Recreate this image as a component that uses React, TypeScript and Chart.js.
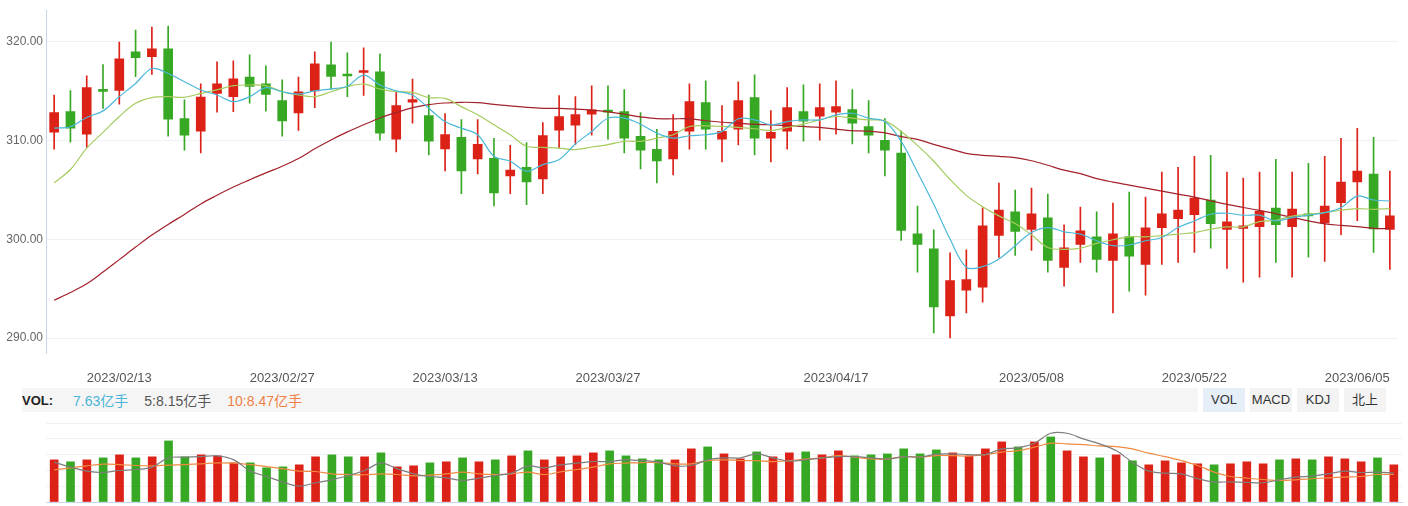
import React, { useEffect, useRef } from 'react';
import { Chart, registerables } from 'chart.js';

Chart.register(...registerables);

const dates = [
  '2023/02/07', '2023/02/08', '2023/02/09', '2023/02/10',
  '2023/02/13', '2023/02/14', '2023/02/15', '2023/02/16', '2023/02/17',
  '2023/02/20', '2023/02/21', '2023/02/22', '2023/02/23', '2023/02/24',
  '2023/02/27', '2023/02/28', '2023/03/01', '2023/03/02', '2023/03/03',
  '2023/03/06', '2023/03/07', '2023/03/08', '2023/03/09', '2023/03/10',
  '2023/03/13', '2023/03/14', '2023/03/15', '2023/03/16', '2023/03/17',
  '2023/03/20', '2023/03/21', '2023/03/22', '2023/03/23', '2023/03/24',
  '2023/03/27', '2023/03/28', '2023/03/29', '2023/03/30', '2023/03/31',
  '2023/04/03', '2023/04/04', '2023/04/06', '2023/04/07',
  '2023/04/10', '2023/04/11', '2023/04/12', '2023/04/13', '2023/04/14',
  '2023/04/17', '2023/04/18', '2023/04/19', '2023/04/20', '2023/04/21',
  '2023/04/24', '2023/04/25', '2023/04/26', '2023/04/27', '2023/04/28',
  '2023/05/04', '2023/05/05',
  '2023/05/08', '2023/05/09', '2023/05/10', '2023/05/11', '2023/05/12',
  '2023/05/15', '2023/05/16', '2023/05/17', '2023/05/18', '2023/05/19',
  '2023/05/22', '2023/05/23', '2023/05/24', '2023/05/25', '2023/05/26',
  '2023/05/29', '2023/05/30', '2023/05/31', '2023/06/01', '2023/06/02',
  '2023/06/05', '2023/06/06', '2023/06/07',
];

const shownDates = ['2023/02/13', '2023/02/27', '2023/03/13', '2023/03/27', '2023/04/17', '2023/05/08', '2023/05/22', '2023/06/05'];

const openP = [
  310.87, 312.95, 310.66, 315.05, 315.10, 318.99, 318.52, 319.30, 312.25, 310.97,
  314.79, 314.46, 316.44, 315.77, 314.06, 312.82, 315.04, 317.68, 316.65, 316.91,
  316.98, 310.16, 313.89, 312.55, 309.16, 310.33, 308.15, 308.22, 306.44, 307.31,
  306.13, 311.07, 311.57, 312.68, 313.00, 312.95, 310.43, 309.12, 308.15, 310.97,
  313.86, 310.16, 311.17, 314.36, 310.26, 310.97, 312.95, 312.48, 312.88, 313.15,
  311.44, 310.03, 308.75, 300.56, 299.05, 292.24, 294.85, 295.16, 300.39, 302.78,
  301.00, 302.18, 297.17, 299.49, 300.26, 297.88, 300.29, 297.47, 301.20, 302.11,
  302.51, 303.99, 301.00, 301.10, 301.30, 303.18, 301.30, 302.58, 301.67, 303.72,
  305.83, 306.61, 301.00,
];
const highP = [
  314.63, 315.07, 316.58, 317.71, 320.00, 321.21, 321.51, 321.61, 314.13, 315.77,
  317.99, 318.09, 318.69, 317.58, 316.17, 316.44, 318.99, 320.00, 318.89, 319.40,
  318.79, 314.89, 316.24, 314.63, 312.75, 312.15, 312.15, 310.23, 309.53, 309.80,
  311.84, 314.56, 314.46, 315.57, 315.57, 315.17, 312.85, 311.14, 312.65, 315.77,
  316.07, 313.55, 315.96, 316.68, 313.05, 315.37, 315.67, 315.77, 316.07, 315.17,
  314.06, 312.25, 311.01, 303.38, 300.97, 298.65, 298.95, 303.21, 305.70, 305.00,
  305.20, 304.59, 301.47, 303.28, 302.78, 303.69, 304.79, 304.29, 306.81, 307.31,
  308.42, 308.52, 306.81, 306.20, 306.81, 308.12, 306.81, 307.71, 308.42, 310.23,
  311.24, 310.33, 306.91,
];
const lowP = [
  309.15, 309.86, 309.33, 313.28, 313.69, 316.48, 316.71, 310.46, 309.05, 308.75,
  312.88, 312.95, 313.79, 312.98, 310.46, 311.04, 313.35, 315.20, 314.46, 314.59,
  310.06, 308.85, 311.77, 308.55, 306.94, 304.62, 306.64, 303.38, 304.62, 303.51,
  304.62, 309.26, 309.60, 310.56, 310.16, 308.75, 307.14, 305.73, 306.54, 309.15,
  309.15, 307.84, 309.56, 308.55, 307.84, 309.15, 309.96, 310.06, 310.66, 309.66,
  308.75, 306.44, 299.89, 296.67, 290.52, 290.02, 292.54, 293.65, 298.18, 298.38,
  298.88, 296.67, 295.26, 297.67, 296.67, 292.54, 294.75, 294.35, 297.47, 297.67,
  298.68, 299.11, 297.07, 295.66, 296.16, 297.67, 296.16, 298.20, 297.78, 300.49,
  301.90, 298.68, 296.97,
];
const closeP = [
  312.85, 311.27, 315.37, 315.00, 318.29, 318.42, 319.30, 312.18, 310.56, 314.43,
  315.77, 316.27, 315.50, 314.69, 312.01, 314.96, 317.78, 316.51, 316.55, 317.08,
  310.77, 313.55, 314.16, 309.96, 310.63, 306.94, 309.63, 304.72, 307.01, 305.83,
  310.53, 312.45, 312.65, 313.12, 312.90, 310.26, 309.05, 307.95, 310.94, 313.96,
  311.17, 310.94, 314.06, 310.26, 310.84, 313.35, 311.97, 313.35, 313.45, 311.77,
  310.56, 309.05, 300.90, 299.49, 293.17, 295.83, 295.93, 301.37, 302.98, 300.80,
  302.58, 297.88, 299.15, 300.87, 297.98, 300.56, 298.29, 301.17, 302.58, 302.98,
  304.19, 301.60, 301.77, 301.37, 302.88, 301.50, 303.08, 302.38, 303.38, 305.80,
  306.91, 301.07, 302.38,
];

const ma5 = [
  311.27, 311.41, 312.35, 313.02, 314.46, 315.80, 317.31, 316.81, 315.97, 315.14,
  314.63, 313.96, 314.46, 315.37, 314.96, 314.73, 315.04, 315.24, 315.52, 316.65,
  315.64, 315.04, 314.63, 313.28, 311.94, 311.27, 310.60, 308.42, 307.92, 306.91,
  307.58, 308.09, 309.66, 310.94, 312.28, 312.28, 311.67, 310.77, 310.26, 310.50,
  310.60, 310.94, 312.22, 312.11, 311.61, 311.94, 312.11, 312.11, 312.62, 312.78,
  312.28, 311.94, 309.93, 306.81, 303.55, 300.03, 297.17, 297.24, 298.02, 299.36,
  300.69, 301.20, 300.77, 300.53, 299.86, 299.36, 299.43, 299.86, 300.19, 301.20,
  301.87, 302.55, 302.65, 302.45, 302.45, 301.87, 302.21, 302.45, 302.71, 303.21,
  304.39, 303.99, 303.89,
];
const ma10 = [
  305.73, 307.08, 309.25, 310.84, 312.45, 313.79, 314.36, 314.46, 314.39, 314.79,
  315.14, 315.57, 315.64, 315.57, 314.96, 314.63, 314.46, 314.96, 315.47, 315.74,
  315.24, 314.96, 314.89, 314.36, 314.29, 313.45, 312.62, 311.61, 310.60, 309.43,
  309.33, 309.25, 309.09, 309.36, 309.60, 309.93, 309.93, 310.26, 310.60, 311.44,
  311.51, 311.44, 311.34, 311.21, 311.04, 311.34, 311.67, 312.11, 312.45, 312.28,
  312.11, 312.01, 310.94, 309.53, 307.92, 306.07, 304.46, 303.31, 302.38, 301.60,
  300.46, 299.18, 298.98, 299.12, 299.59, 299.96, 300.26, 300.26, 300.39, 300.53,
  300.69, 301.04, 301.27, 301.27, 301.80, 301.94, 302.35, 302.55, 302.71, 302.95,
  303.11, 303.05, 303.11,
];
const ma30 = [
  293.84, 294.62, 295.50, 296.69, 297.95, 299.22, 300.44, 301.52, 302.53, 303.59,
  304.47, 305.30, 306.03, 306.74, 307.41, 308.19, 309.18, 310.07, 310.89, 311.61,
  312.30, 312.85, 313.35, 313.66, 313.82, 313.89, 313.86, 313.68, 313.53, 313.38,
  313.28, 313.28, 313.20, 313.09, 312.92, 312.68, 312.42, 312.23, 312.22, 312.21,
  312.02, 311.87, 311.77, 311.67, 311.60, 311.54, 311.44, 311.34, 311.17, 311.02,
  310.96, 310.80, 310.41, 310.13, 309.63, 309.17, 308.72, 308.52, 308.42, 308.29,
  307.97, 307.51, 307.01, 306.66, 306.15, 305.80, 305.50, 305.20, 304.89, 304.59,
  304.29, 303.91, 303.54, 303.23, 302.94, 302.60, 302.23, 301.87, 301.57, 301.42,
  301.29, 301.12, 301.10,
];

const volume = [
  8.65, 8.25, 8.65, 9.06, 9.68, 9.06, 9.27, 12.54, 9.27, 9.68,
  9.47, 8.04, 8.04, 7.02, 7.22, 7.63, 9.27, 9.68, 9.27, 9.27,
  10.09, 7.22, 7.43, 8.04, 8.25, 9.06, 8.25, 8.65, 9.47, 10.50,
  8.65, 9.27, 9.47, 10.09, 10.50, 9.47, 8.86, 8.65, 8.65, 10.91,
  11.31, 9.88, 8.86, 10.29, 9.27, 10.09, 10.29, 9.68, 10.50, 9.47,
  9.68, 9.88, 10.91, 9.88, 10.70, 10.09, 9.47, 10.91, 12.34, 11.31,
  12.34, 13.36, 10.50, 9.27, 9.06, 9.68, 8.45, 7.63, 8.45, 8.04,
  7.84, 7.63, 7.84, 8.25, 7.84, 8.65, 8.86, 8.65, 9.27, 8.86,
  8.25, 9.06, 7.63,
];
const volMa5 = [
  8.18, 7.16, 6.34, 6.06, 6.47, 6.67, 7.16, 9.06, 9.21, 9.33,
  9.47, 8.65, 6.34, 5.24, 4.09, 3.27, 3.95, 4.56, 5.44, 6.47,
  7.98, 6.81, 5.79, 5.24, 4.97, 4.42, 4.91, 5.44, 5.93, 7.37,
  7.02, 7.63, 7.98, 8.31, 8.31, 8.65, 8.51, 8.18, 7.43, 7.49,
  8.65, 9.06, 9.06, 9.88, 9.06, 8.39, 8.65, 9.06, 9.33, 9.33,
  9.06, 8.80, 9.33, 9.21, 9.82, 9.88, 9.74, 9.74, 10.91, 11.11,
  12.07, 14.12, 14.12, 12.95, 11.93, 10.56, 8.18, 6.34, 5.93, 5.79,
  4.77, 4.09, 4.15, 4.01, 3.95, 4.56, 5.12, 5.32, 5.79, 6.34,
  6.06, 6.14, 5.93,
];
const volMa10 = [
  6.61, 7.02, 7.43, 7.77, 7.69, 7.49, 7.43, 7.57, 7.69, 7.84,
  8.04, 7.98, 7.69, 7.28, 6.81, 6.34, 6.26, 5.79, 5.65, 5.59,
  5.79, 5.65, 5.38, 5.52, 5.79, 6.14, 5.79, 5.65, 5.79, 6.14,
  5.65, 6.20, 6.67, 7.16, 7.84, 7.98, 8.10, 8.10, 7.84, 7.84,
  8.51, 8.65, 8.51, 8.51, 8.31, 8.51, 8.80, 9.06, 9.53, 9.21,
  8.86, 8.80, 9.33, 9.21, 9.53, 9.53, 9.41, 9.74, 10.23, 10.56,
  11.25, 12.07, 11.93, 11.78, 11.52, 11.38, 10.91, 10.03, 9.33, 8.51,
  7.49, 6.14, 5.24, 4.91, 4.62, 4.42, 4.56, 4.77, 4.97, 5.12,
  5.24, 5.65, 5.65,
];

const priceTicks = [290, 300, 310, 320];
const priceMin = 288.49;
const priceMax = 323.22;
const volTicks = [0, 3.244, 6.488, 9.732, 12.976, 16.22];
const volMax = 16.22;

const volLegend = [
  { text: '7.63亿手', color: '#4bb4d8' },
  { text: '5:8.15亿手', color: '#555555' },
  { text: '10:8.47亿手', color: '#ef7f45' },
];
const tabs = ['VOL', 'MACD', 'KDJ', '北上'];

const UP = '#dc2117';
const DOWN = '#37a823';
const FONT = "'Liberation Sans', Arial, 'Noto Sans CJK SC', sans-serif";

export default function App() {
  const mainRef = useRef<HTMLCanvasElement | null>(null);
  const volRef = useRef<HTMLCanvasElement | null>(null);

  useEffect(() => {
    Chart.defaults.font.family = FONT;
    const colors = closeP.map((c, i) => (c >= openP[i] ? UP : DOWN));
    const lineBase = { type: 'line' as const, pointRadius: 0, borderWidth: 1.2, tension: 0.35, fill: false, order: 0 };

    const main = new Chart(mainRef.current as HTMLCanvasElement, {
      type: 'bar',
      data: {
        labels: dates,
        datasets: [
          { ...lineBase, label: 'MA5', data: ma5, borderColor: '#4bb8d8' },
          { ...lineBase, label: 'MA10', data: ma10, borderColor: '#a6cb5e' },
          { ...lineBase, label: 'MA30', data: ma30, borderColor: '#a3222c' },
          {
            type: 'bar', label: 'body', data: openP.map((o, i) => [o, closeP[i]]) as any,
            backgroundColor: colors, barThickness: 9, minBarLength: 2, grouped: false, order: 1,
          },
          {
            type: 'bar', label: 'wick', data: lowP.map((l, i) => [l, highP[i]]) as any,
            backgroundColor: colors, barThickness: 1, grouped: false, order: 2,
          },
        ] as any,
      },
      options: {
        animation: false,
        responsive: false,
        maintainAspectRatio: false,
        layout: { padding: { left: 0, right: 6, top: 8, bottom: 0 } },
        plugins: { legend: { display: false }, tooltip: { enabled: false } },
        scales: {
          x: {
            offset: true,
            grid: { display: false, drawTicks: false },
            border: { display: false },
            ticks: {
              autoSkip: false, maxRotation: 0, minRotation: 0, padding: 18, color: '#555',
              font: { size: 13, family: FONT },
              callback: (_v: any, i: number) => (shownDates.includes(dates[i]) ? dates[i] : null),
            },
            afterFit: (s: any) => { s.height = 35; },
          },
          y: {
            min: priceMin, max: priceMax,
            grid: { color: '#eef1f5', drawTicks: false },
            border: { color: '#c6d5ec' },
            ticks: { padding: 3, color: '#666', font: { size: 12, family: FONT }, callback: (v: any) => Number(v).toFixed(2) },
            afterBuildTicks: (s: any) => { s.ticks = priceTicks.map((v) => ({ value: v })); },
            afterFit: (s: any) => { s.width = 46; },
          },
        },
      } as any,
    });

    const vol = new Chart(volRef.current as HTMLCanvasElement, {
      type: 'bar',
      data: {
        labels: dates,
        datasets: [
          { ...lineBase, label: 'VMA5', data: volMa5, borderColor: '#7d7d7d' },
          { ...lineBase, label: 'VMA10', data: volMa10, borderColor: '#f08a40' },
          { type: 'bar', label: 'VOL', data: volume, backgroundColor: colors, barThickness: 8, order: 1 },
        ] as any,
      },
      options: {
        animation: false,
        responsive: false,
        maintainAspectRatio: false,
        layout: { padding: { left: 0, right: 6, top: 5, bottom: 0 } },
        plugins: { legend: { display: false }, tooltip: { enabled: false } },
        scales: {
          x: {
            offset: true,
            grid: { display: false, drawTicks: false },
            border: { display: true, color: '#c6d5ec' },
            ticks: { display: false },
            afterFit: (s: any) => { s.height = 4; },
          },
          y: {
            min: 0, max: volMax,
            grid: { color: '#eef1f5', drawTicks: false },
            border: { display: false },
            ticks: { display: false },
            afterBuildTicks: (s: any) => { s.ticks = volTicks.map((v) => ({ value: v })); },
            afterFit: (s: any) => { s.width = 46; },
          },
        },
      } as any,
    });

    return () => { main.destroy(); vol.destroy(); };
  }, []);

  return (
    <div style={{ position: 'absolute', left: 0, top: 0, width: 1408, height: 506, background: '#fff', fontFamily: FONT, overflow: 'hidden' }}>
      <canvas ref={mainRef} width={1408} height={388} style={{ position: 'absolute', left: 0, top: 0, display: 'block' }} />
      <div style={{ position: 'absolute', left: 22, top: 388, width: 1176, height: 24, background: '#f5f5f5', display: 'flex', alignItems: 'center', fontSize: 14, whiteSpace: 'nowrap' }}>
        <span style={{ fontWeight: 'bold', color: '#222', fontSize: 13, marginRight: 20 }}>VOL:</span>
        {volLegend.map((l) => (
          <span key={l.text} style={{ color: l.color, marginRight: 16 }}>{l.text}</span>
        ))}
      </div>
      {tabs.map((t, i) => (
        <div key={t} style={{
          position: 'absolute', left: 1203 + i * 47, top: 388, width: 42, height: 24, lineHeight: '24px',
          textAlign: 'center', fontSize: 13, color: '#333', background: i === 0 ? '#e6eef8' : '#f3f3f3',
        }}>{t}</div>
      ))}
      <canvas ref={volRef} width={1408} height={88} style={{ position: 'absolute', left: 0, top: 418, display: 'block' }} />
    </div>
  );
}
